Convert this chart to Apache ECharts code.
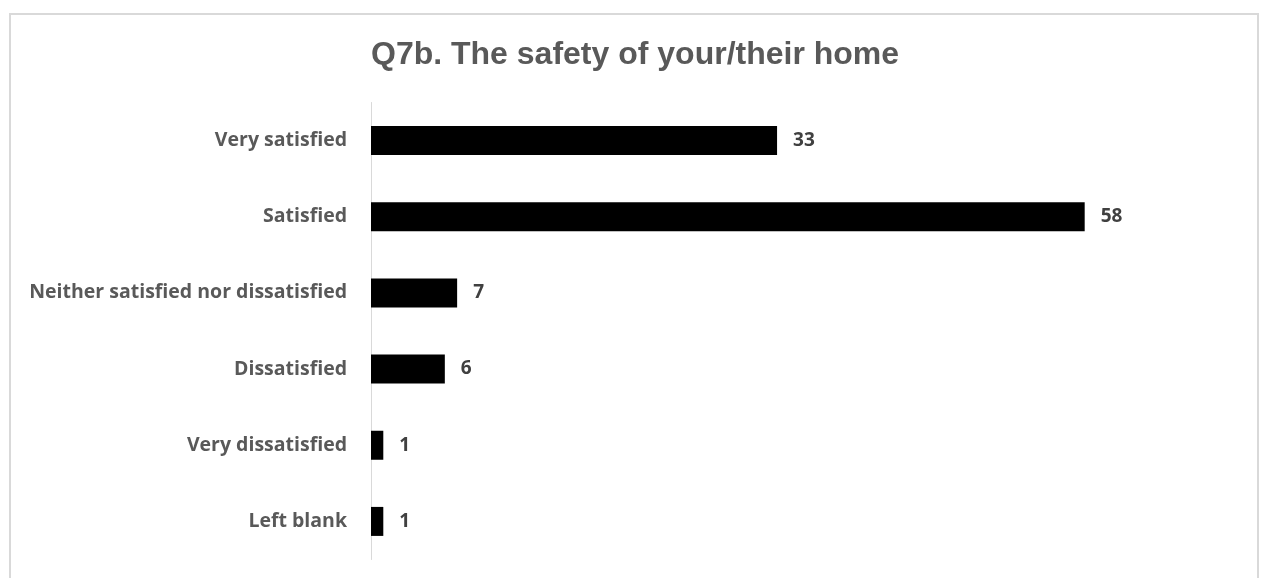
<!DOCTYPE html>
<html>
<head>
<meta charset="utf-8">
<script src="https://cdn.jsdelivr.net/npm/echarts@6/dist/echarts.min.js"></script>
<style>
  html, body { margin: 0; padding: 0; background: #fff; }
  #frame { position: absolute; left: 9px; top: 13px; width: 1250px; height: 600px; border: 2px solid #d9d9d9; box-sizing: border-box; }
  #chart { position: absolute; left: 0; top: 0; width: 1263px; height: 578px; }
</style>
</head>
<body>
<div id="frame"></div>
<div id="chart"></div>
<script>
const titleText = 'Q7b. The safety of your/their home';
const categories = ['Very satisfied', 'Satisfied', 'Neither satisfied nor dissatisfied', 'Dissatisfied', 'Very dissatisfied', 'Left blank'];
const counts = [33, 58, 7, 6, 1, 1];

const chart = echarts.init(document.getElementById('chart'));
chart.setOption({
  animation: false,
  title: {
    text: titleText,
    left: 371,
    top: 39,
    padding: 0,
    textStyle: { fontFamily: 'Liberation Sans, Arial', fontWeight: 'bold', fontSize: 32, color: '#595959' }
  },
  grid: { left: 371, top: 102.5, width: 738.3, height: 457, containLabel: false },
  xAxis: {
    type: 'value', min: 0, max: 60,
    show: false
  },
  yAxis: {
    type: 'category',
    data: categories,
    inverse: true,
    axisLine: { show: true, lineStyle: { color: '#d9d9d9', width: 1 } },
    axisTick: { show: false },
    axisLabel: { margin: 24, fontFamily: 'Open Sans', fontWeight: 'bold', fontSize: 19.5, color: '#595959' }
  },
  series: [{
    type: 'bar',
    data: counts,
    barWidth: 29,
    itemStyle: { color: '#000000' },
    label: { show: true, position: 'right', distance: 16, fontFamily: 'Open Sans', fontWeight: 'bold', fontSize: 19, color: '#404040' }
  }]
});
</script>
</body>
</html>
